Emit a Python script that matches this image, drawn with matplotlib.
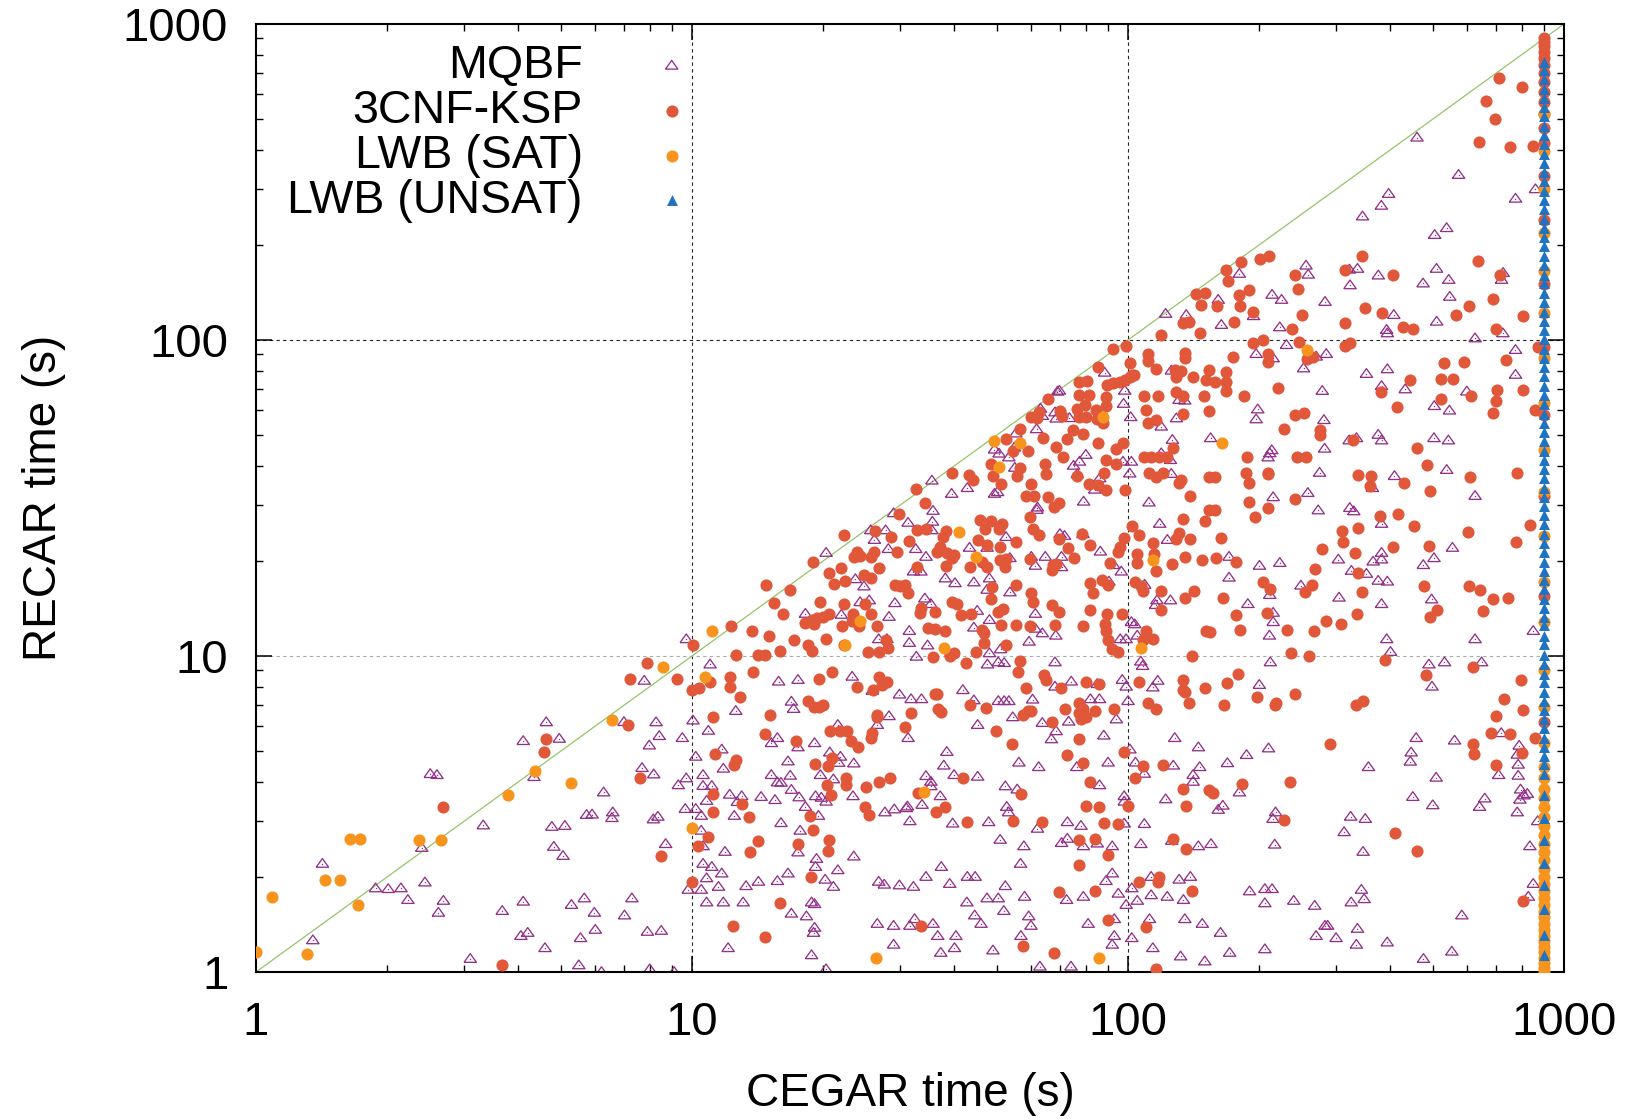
import numpy as np
import matplotlib
matplotlib.use("Agg")
import matplotlib.pyplot as plt
from matplotlib.ticker import FixedLocator, FixedFormatter, LogLocator, NullFormatter

plt.rcParams['font.family'] = ['Liberation Sans', 'DejaVu Sans']

# ── Donnees : (temps CEGAR, temps RECAR) en secondes ─────────────────────────
TIMEOUT = 900

mqbf_bottom_left = [
    (1.42, 2.2), (1.88, 1.84), (2.01, 1.83), (2.15, 1.84), (2.23, 1.69), (2.44, 1.92),
    (2.51, 4.23), (2.6, 4.2), (2.4, 2.47), (2.69, 1.68), (2.62, 1.54), (3.32, 2.91),
    (3.67, 1.56), (4.1, 5.38), (4.63, 6.17), (4.96, 5.47), (4.34, 4.14), (4.77, 2.88),
    (5.11, 2.9), (4.82, 2.49), (5.06, 2.33), (4.1, 1.67), (4.2, 1.33), (4.05, 1.3),
    (5.29, 1.63), (5.66, 1.71), (5.97, 1.54), (6.0, 1.36), (5.55, 1.28), (6.27, 3.7),
    (5.73, 3.14), (5.9, 3.15), (6.58, 3.2), (6.55, 3.07), (6.98, 6.18), (8.27, 6.17),
    (8.41, 5.58), (7.98, 5.21), (7.77, 8.35), (7.68, 4.42), (8.17, 4.22), (8.15, 3.04),
    (8.35, 3.1), (7.28, 1.71), (7.0, 1.51), (7.9, 1.34), (8.7, 2.54), (1.35, 1.26),
]
mqbf_bottom_mid = [
    (9.7, 11.3), (11.0, 9.4), (12.6, 6.7), (15.8, 8.3), (17.5, 8.4), (10.05, 6.25),
    (10.9, 5.8), (9.5, 5.5), (10.2, 4.8), (11.7, 5.06), (11.8, 4.4), (10.6, 4.2),
    (9.7, 4.1), (9.3, 3.9), (10.6, 3.88), (11.1, 3.88), (10.8, 3.48), (10.2, 3.28),
    (9.65, 3.28), (10.5, 3.12), (12.2, 3.64), (13.0, 3.6), (12.7, 3.45), (12.5, 3.12),
    (14.4, 3.58), (15.5, 3.5), (15.2, 4.2), (15.7, 3.98), (16.0, 3.97), (15.2, 5.3),
    (15.7, 5.5), (16.6, 4.64), (16.8, 4.18), (16.9, 7.17), (17.1, 6.8), (17.5, 5.14),
    (19.1, 5.3), (21.6, 6.05), (16.9, 3.77), (17.6, 3.57), (19.7, 4.2), (21.1, 4.07),
    (20.7, 4.95), (21.9, 4.8), (21.7, 4.59), (23.5, 4.57), (23.4, 3.6), (19.2, 3.6),
    (19.8, 3.56), (20.3, 3.46), (18.2, 3.33), (19.5, 3.12), (16.0, 2.96), (17.7, 2.8),
    (17.5, 2.39), (23.3, 8.6), (25.9, 7.76), (26.8, 11.3), (28.0, 11.3), (28.3, 6.45),
    (26.6, 6.05), (29.9, 7.55), (31.8, 7.3), (33.6, 7.3), (31.5, 11.0), (34.7, 10.8),
    (32.7, 9.95), (31.3, 5.5), (38.4, 4.97), (37.8, 4.5), (39.9, 4.2), (45.2, 4.15),
    (34.4, 4.17), (35.3, 4.0), (35.3, 3.87), (37.1, 3.6), (33.7, 3.38), (31.2, 3.34),
    (29.1, 3.27), (31.0, 3.3), (27.7, 3.2), (31.6, 3.0), (39.6, 2.95), (47.9, 2.98),
    (41.8, 7.8), (45.2, 6.05), (44.3, 7.24), (50.4, 7.2), (52.0, 7.2), (53.3, 7.2),
    (60.4, 7.28), (54.4, 6.4), (63.6, 6.14), (68.4, 5.78), (66.7, 5.45), (73.1, 6.2),
    (74.1, 8.3), (68.0, 8.0), (68.0, 9.55), (59.3, 11.1), (48.1, 10.2), (51.0, 10.5),
    (50.4, 9.55), (47.6, 9.4), (52.0, 9.5), (63.6, 11.8), (68.3, 11.6), (56.2, 4.6),
    (62.4, 4.45), (76.3, 4.45), (52.3, 3.87), (55.7, 3.78), (52.7, 3.33), (53.2, 3.2),
    (72.6, 2.98), (62.0, 2.84), (50.9, 2.62), (57.7, 2.5), (72.6, 2.64), (70.4, 2.56),
    (56.7, 2.2), (52.3, 1.87), (57.9, 1.73), (72.3, 1.69), (47.5, 1.71), (50.4, 1.71),
    (42.7, 1.66), (44.5, 1.51), (51.9, 1.56), (59.2, 1.5), (59.9, 1.4), (56.8, 1.3),
    (46.0, 1.42), (37.3, 2.15), (39.0, 1.9), (34.4, 2.0), (42.8, 2.0), (44.6, 2.0),
    (40.3, 1.3), (36.6, 1.3), (26.6, 1.42), (29.0, 1.4), (31.6, 1.4), (32.4, 1.47),
    (35.7, 1.42), (26.8, 1.93), (27.6, 1.89), (29.9, 1.88), (32.2, 1.86), (23.5, 2.32),
    (21.6, 2.1), (21.1, 1.86), (20.2, 1.96), (19.3, 2.28), (19.2, 2.15), (18.8, 1.66),
    (19.1, 1.64), (18.3, 1.5), (19.1, 1.38), (19.0, 1.33), (16.9, 1.53), (16.6, 2.05),
    (15.7, 1.94), (14.2, 1.93), (13.3, 1.87), (13.1, 1.66), (11.8, 1.66), (10.8, 1.66),
    (11.7, 2.05), (11.5, 1.86), (11.1, 2.15), (10.8, 1.98), (10.6, 2.2), (10.5, 1.82),
    (9.8, 1.82), (10.5, 2.8), (10.6, 2.5), (11.9, 2.4), (8.5, 1.35),
]
mqbf_bottom_right = [
    (96, 11.3), (99, 11.3), (105, 11.6), (107, 9.6), (108, 9.3), (211, 11.6), (212, 9.55),
    (392, 11.3), (400, 10.3), (490, 9.4), (532, 9.55), (647, 9.55), (625, 11.3), (498, 8.0),
    (200, 8.1), (97, 8.4), (99, 8.0), (117, 8.35), (114, 7.95), (85, 8.15), (86, 7.3),
    (82, 7.3), (100, 7.2), (94, 6.3), (88, 5.6), (128, 5.5), (145, 5.14), (101, 5.06),
    (104, 4.6), (109, 4.24), (90, 4.6), (86, 3.9), (127, 4.5), (146, 4.45), (141, 4.2),
    (141, 4.0), (169, 4.58), (187, 4.86), (210, 5.1), (180, 3.7), (98, 3.6), (98, 3.46),
    (122, 3.52), (165, 3.36), (161, 3.26), (218, 3.2), (215, 3.05), (98, 2.95), (109, 2.94),
    (78, 2.9), (79, 2.5), (85, 2.55), (92, 2.5), (107, 2.54), (126, 2.6), (145, 2.5),
    (155, 2.54), (217, 2.53), (324, 3.1), (350, 3.05), (313, 2.77), (346, 2.4), (356, 4.45),
    (458, 5.5), (561, 5.4), (446, 4.95), (444, 4.63), (509, 4.12), (450, 3.58), (500, 3.37),
    (658, 3.54), (640, 3.33), (708, 4.2), (718, 5.7), (92, 2.05), (89, 1.94), (79, 1.73),
    (95, 1.77), (102, 1.84), (99, 1.63), (105, 1.68), (113, 1.75), (123, 1.73), (134, 1.69),
    (131, 1.96), (139, 2.0), (113, 2.0), (93, 1.47), (81, 1.42), (112, 1.47), (135, 1.47),
    (148, 1.42), (163, 1.33), (190, 1.8), (206, 1.83), (214, 1.83), (206, 1.65), (240, 1.68),
    (268, 1.62), (325, 1.66), (348, 1.7), (343, 1.82), (336, 1.37), (283, 1.4), (287, 1.4),
    (270, 1.3), (300, 1.28), (583, 1.51), (93, 1.3), (102, 1.28),
]
mqbf_mid = [
    (69.6, 69.1), (68.9, 68.6), (63, 60.6), (63.6, 57.5), (68, 59), (68.4, 56.4), (73.4, 56.6),
    (61.7, 52.2), (55.3, 50.6), (54.9, 45.7), (53.3, 42.5), (50.6, 43.7), (49.4, 45),
    (75, 40), (76.5, 37.6), (55, 39.4), (50.2, 33), (49.4, 32.6), (62, 29.5), (61.8, 29),
    (69.8, 24.3), (71.5, 24), (52.5, 23.8), (43.3, 22), (47.5, 22), (53.6, 20.4), (60, 20.6),
    (61.3, 19.3), (64.6, 20.6), (70.4, 20.6), (70.4, 19.1), (35.5, 35.9), (39.4, 32.6),
    (42.8, 34), (35.7, 28.8), (35.6, 26.6), (35.5, 25), (31.3, 26.4), (29, 28.3), (25.7, 25),
    (26.2, 23.3), (27.8, 25), (28.2, 21.8), (32.6, 21.8), (34.4, 20.6), (20.3, 21.2),
    (32.2, 18.5), (33.5, 18.5), (38.1, 17.6), (40.1, 17.0), (44.3, 17.1), (47.5, 16.2),
    (48.1, 17.6), (53.6, 15.9), (23.7, 17.5), (24.8, 16.6), (24.3, 14.8), (25.5, 15),
    (29.2, 14.7), (34.2, 15.2), (35.3, 14.6), (45.1, 13.9), (48.1, 13.0), (44.3, 12.3),
    (61.3, 13.6), (61.3, 12.2), (28.3, 13.3), (31.5, 12), (18.2, 13.6), (22, 13.5),
]
mqbf_mid_right = [
    (163.7, 111.6), (222.9, 109.7), (230.9, 96.4), (196.7, 90.3), (215.2, 87.5), (284.9, 90.3),
    (270.1, 88.6), (252.7, 81.3), (393.3, 80.8), (391.9, 107.6), (393.3, 105), (510.4, 114.3),
    (625.1, 101.2), (724, 105), (352.2, 78.1), (381.5, 71.5), (432.2, 69.8), (598.6, 68.7),
    (504.1, 61.8), (545.9, 59.8), (278.9, 69.0), (198.4, 60.3), (196.7, 56.1), (281.4, 55.8),
    (129.1, 56.5), (119.2, 53.2), (130.9, 64.6), (134.9, 64.3), (101.4, 57.0), (97.7, 62.8),
    (98.3, 69.1), (88.4, 78.8), (125.7, 80.0), (126.4, 48.3), (119.2, 43.8), (125.1, 41.7),
    (125.7, 37.7), (154.7, 48.9), (213.6, 44.8), (211.4, 43.8), (209.5, 42.5), (275.0, 38.0),
    (282.4, 45.3), (321.4, 48.1), (334.2, 48.9), (374.8, 50.1), (381.5, 48.1), (503.2, 48.9),
    (543.0, 48.1), (538.2, 38.8), (408.5, 37.1), (363.6, 34.0), (625.1, 32.1), (258.5, 32.8),
    (215.2, 31.8), (273.0, 28.9), (322.6, 29.4), (329.5, 28.7), (381.5, 26.2), (381.5, 21.2),
    (364.9, 19.9), (381.5, 20.2), (303.7, 20.2), (325.4, 18.6), (352.2, 18.2), (374.8, 17.3),
    (393.3, 17.2), (475.5, 19.4), (503.2, 20.4), (554.7, 22.0), (497.0, 15.1), (381.5, 14.6),
    (304.8, 15.3), (249.2, 16.7), (211.4, 15.6), (222.9, 19.7), (200.2, 19.3), (170.5, 20.6),
    (170.5, 17.7), (188.3, 14.6), (215.2, 13.7), (215.2, 12.8), (118.2, 26.2), (123.1, 23.3),
    (111.7, 30.6), (86.4, 21.4), (92.7, 19.4), (96.5, 18.5), (109.2, 16.8), (116.5, 15.0),
    (125.1, 15.0), (115.7, 14.5), (101.8, 12.8), (103.6, 12.6), (79.1, 30.8), (78.8, 24.3),
    (77.4, 41.2), (80.0, 43.3), (86.1, 36.5), (83.9, 33.6), (101.8, 41.2), (100.9, 37.8),
    (97.4, 41.2), (90.4, 17.2),
]
mqbf_top_right = [
    (460, 437), (573, 333), (396, 290), (381, 266), (345, 246), (505, 215), (538, 226),
    (256, 172), (259, 161), (322, 167), (336, 168), (323, 149), (375, 160), (510, 168),
    (544, 155), (547, 137), (475, 151), (725, 163), (719, 155), (283, 132), (214, 139),
    (225, 134), (180, 162), (161, 134), (122, 121), (136, 120), (194, 119), (407, 120),
    (774, 280), (774, 93), (774, 77.6), (789, 5.2), (781, 4.87), (785, 4.53), (785, 4.18),
    (795, 3.78), (809, 3.62), (792, 3.51), (824, 3.66), (781, 3.2), (828, 1.73), (835, 2.5),
    (860, 300), (850, 12), (870, 3.0), (850, 1.9),
]
mqbf_floor = [
    (3.1, 1.1), (4.6, 1.19), (5.5, 1.05), (6.2, 1.0), (8.0, 1.02), (9.1, 1.0), (12.1, 1.19),
    (18.8, 1.13), (20.3, 1.02), (29, 1.22), (37.2, 1.15), (40, 1.19), (49, 1.17), (62.8, 1.04),
    (74, 1.04), (92, 1.22), (114, 1.19), (132, 1.12), (150, 1.08), (171, 1.15), (206, 1.18),
    (334, 1.22), (393, 1.24), (476, 1.1), (553, 1.16),
]

ksp_low = [
    (2.68, 3.32), (4.63, 5.45), (4.57, 4.98), (7.19, 8.47), (7.9, 9.5), (7.12, 6.06),
    (7.6, 4.12), (8.49, 2.33), (3.67, 1.05),
    (10.05, 10.8), (12.6, 10.1), (14.2, 10.1), (14.7, 10.1), (15.9, 10.4), (17.1, 11.2),
    (18.5, 10.8), (18.8, 10.4), (20.3, 11.3), (22.3, 10.8), (25.3, 10.3), (26.9, 10.3),
    (28.1, 10.6), (27.9, 11.2), (35.8, 9.95), (39.1, 10), (42.6, 9.5), (44.7, 10.3),
    (46.8, 11.0), (52.6, 10.8), (56.6, 9.66), (56, 8.9), (64.2, 8.7), (65, 8.4), (58.3, 7.9),
    (70.3, 7.9), (9.24, 8.43), (10, 7.8), (10.4, 7.9), (11, 8.3), (12.2, 8.55), (12.2, 8.0),
    (13.8, 8.9), (12.9, 7.4), (11.2, 6.4), (15.1, 6.5), (14.7, 5.65), (17.3, 5.4), (19.6, 8.45),
    (20.9, 8.9), (23.9, 8.0), (26.9, 8.6), (26.0, 7.8), (27.3, 8.1), (28.0, 8.3), (18.5, 7.2),
    (19.0, 6.9), (19.6, 6.9), (20.0, 7.0), (26.6, 6.5), (26.5, 6.4), (31.8, 6.6), (30.8, 5.96),
    (25.7, 5.5), (25.9, 5.7), (20.7, 5.8), (21.9, 5.8), (22.7, 5.8), (23.1, 5.4), (24.0, 5.14),
    (21.0, 4.77), (20.5, 4.5), (19.1, 4.55), (22.6, 4.1), (22.5, 3.9), (20.4, 3.9), (20.8, 3.64),
    (25.0, 3.86), (26.8, 4.0), (28.4, 4.1), (24.9, 3.33), (25.4, 3.13), (18.6, 3.12), (18.9, 2.81),
    (20.6, 2.62), (20.5, 2.42), (17.5, 2.55), (18.7, 2.0), (14.2, 2.6), (13.6, 2.4), (10.9, 2.68),
    (10.3, 2.5), (10.0, 1.93), (11.2, 3.67), (11.2, 3.2), (13.0, 3.4), (13.5, 3.1), (11.3, 4.9),
    (12.5, 4.52), (12.6, 4.67), (15.9, 1.65), (12.4, 1.4), (14.7, 1.29), (33.6, 1.4), (33.0, 3.68),
    (36.3, 3.2), (38.0, 3.33), (41.8, 4.1), (42.7, 2.99), (56.8, 3.65), (54.6, 3.0), (63.6, 2.98),
    (71.6, 6.8), (59, 6.7), (60, 6.7), (57.5, 6.5), (67, 6.2), (49.9, 5.8), (43.3, 7.0),
    (47.2, 6.85), (54.3, 5.25), (72.5, 4.87), (69.6, 1.79), (36.1, 7.6), (36.5, 7.6),
    (37.2, 6.65), (36.6, 6.8), (40, 10.2), (39, 10.1),
    (57.5, 1.21), (67.5, 1.15), (116, 1.02),
]
ksp_low_right = [
    (89, 12), (90, 11.2), (92, 10.5), (95, 10.3), (108, 11.2), (114, 11.3), (110, 12), (151, 12),
    (154, 11.9), (181, 12.1), (267, 12), (232, 12.1), (140, 10), (236, 10.2), (260, 10), (389, 9.7),
    (617, 9.2), (483, 8.7), (80, 8.3), (86, 8.15), (106, 8.3), (134, 8.4), (134, 7.8), (135, 7.7),
    (150, 7.9), (169, 8.2), (179, 8.8), (77, 7.1), (79, 6.8), (77, 6.6), (84, 6.7), (80, 6.4),
    (78, 6.3), (93, 6.8), (111, 7.1), (116, 6.8), (138, 7.1), (166, 7.0), (198, 7.4), (217, 7.0),
    (219, 7.1), (242, 7.6), (333, 7.0), (346, 7.2), (729, 7.3), (700, 6.45), (680, 5.7), (750, 5.65),
    (290, 5.27), (617, 5.27), (622, 4.9), (700, 4.52), (77, 5.45), (79, 4.6), (98, 4.98), (108, 4.5),
    (104, 4.12), (120, 4.53), (82, 3.98), (80, 3.35), (86, 3.33), (100, 3.35), (134, 3.8),
    (136, 3.35), (153, 3.77), (157, 3.68), (183, 3.93), (235, 4.0), (228, 3.02), (88, 2.97),
    (95, 2.95), (77, 2.62), (84, 2.63), (90, 2.34), (77, 2.18), (127, 2.63), (136, 2.45),
    (409, 2.76), (461, 2.41), (106, 1.93), (118, 2.0), (117, 1.93), (84, 1.8), (140, 1.8),
    (90, 1.46), (110, 1.39), (795, 8.4), (805, 6.76), (803, 4.93), (807, 1.68), (860, 5.5),
]
ksp_mid = [
    (65.5, 64.9), (62.5, 59.3), (60, 56.9), (62, 56.5), (70, 59.8), (70.5, 57.5), (76.5, 60.3),
    (56.6, 52.4), (52.5, 48.5), (54.5, 44.7), (59, 44.4), (63.8, 49), (68.5, 46), (72.5, 48.7),
    (74.6, 52), (71, 42.6), (48.5, 40.5), (56.5, 39.4), (55.5, 37.1), (64.4, 40.5), (65, 37.6),
    (76.5, 37), (51, 35.1), (49, 37.2), (59.8, 35), (58.5, 32), (61, 32), (65.5, 31.8),
    (69.5, 30.4), (67.5, 29.6), (59.5, 27.6), (60.5, 25.2), (62.5, 24.2), (69.5, 23.5),
    (73, 21.9), (75, 20.4), (82, 22.5), (78.5, 24.3), (39.4, 37.9), (43.2, 37.3), (44.2, 36),
    (32.6, 33.7), (34.2, 30.6), (29.9, 28.1), (45.8, 26.9), (48.5, 26.8), (51.5, 26.1),
    (47, 25.3), (50.5, 25.3), (38.2, 24.9), (37.6, 23.8), (45.4, 23.3), (47.6, 22.4),
    (50.9, 22.2), (55.4, 22.9), (32.8, 25.1), (34.5, 25.3), (28.6, 23.8), (31.4, 23.1),
    (29.6, 21.3), (22.3, 24.2), (26.3, 24.8), (23.9, 21.3), (23.5, 20.5), (24.3, 20.7),
    (25.7, 20.5), (26.9, 19.0), (26.1, 21.3), (37, 22.2), (36.5, 21.3), (38.5, 21.2), (40, 20.9),
    (38.2, 19.3), (39.4, 20.4), (32.8, 19.1), (43.4, 19.1), (46.2, 19.9), (47.6, 19.1),
    (50.8, 20.2), (52.5, 20.3), (52.3, 19.1), (59.5, 20.3), (67.3, 19.4), (68.4, 19.5),
    (66.8, 18.7), (18.9, 19.9), (22, 19), (20.6, 18.3), (22.4, 17.3), (21.2, 16.9),
    (24.8, 18), (25.7, 17.6), (29.2, 16.8), (30, 16.6), (30.8, 16.8), (31.3, 15.8), (16.8, 16.2),
    (14.8, 16.8), (15.4, 14.7), (16.2, 13.6), (19.7, 14.8), (22.3, 14.6), (23.4, 13.6),
    (24.9, 14.6), (25.8, 13.6), (20.6, 13.6), (20, 13.3), (19.4, 13.2), (18.8, 13.0), (18.2, 12.7),
    (19.0, 12.6), (23.3, 12.9), (24.2, 12.4), (22.1, 12.4), (26.6, 12.4), (12.3, 12.4),
    (13.7, 12.0), (15, 11.6), (33.6, 14.2), (33.4, 13.7), (36, 13.8), (34.8, 12.3), (36, 12.2),
    (38.1, 12), (39.4, 14.8), (40.6, 14.6), (41.4, 13.5), (43.7, 13.6), (48.8, 16.5), (48.6, 15.1),
    (55.3, 16.8), (60, 15.8), (60.4, 14.8), (66.8, 14.5), (69.5, 13.8), (50.2, 13.8), (51.6, 14.1),
    (51.2, 12.5), (55.3, 12.5), (59.6, 12.4), (68.1, 12.5), (46.3, 12.1), (46.8, 11.8),
]
ksp_mid_right = [
    (134, 113), (138, 114), (146, 105), (119, 104), (92.3, 93.6), (99, 95.9), (85.3, 81.9),
    (101, 84.7), (102, 77.7), (111, 90.2), (111, 86.0), (116, 80.8), (135, 90.7), (135, 87.6),
    (128, 80.2), (132, 79.7), (129, 76.6), (141, 76.6), (153, 80.2), (151, 74.6), (158, 73.4),
    (168, 79), (168, 73.8), (168, 69.1), (174, 88.3), (77.4, 73.8), (80.6, 74.3), (89.5, 72),
    (92.4, 73.3), (95.7, 73.8), (98.2, 74.8), (101, 76.6), (103, 77.5), (77.4, 66.9), (81.6, 66.9),
    (79.6, 62.3), (84.3, 60.1), (88.9, 65.8), (88.9, 61.8), (77.4, 57.2), (79.9, 57.2), (84.8, 56.3),
    (87.7, 54.7), (85.5, 47.3), (78.9, 50.3), (97.4, 47.3), (93.7, 45.1), (88.9, 41.7), (93.7, 40.5),
    (88, 38), (81.6, 35), (85.5, 34.8), (88.9, 33.4), (98.2, 33.4), (109, 66.3), (117, 66.6),
    (110, 60.1), (111, 54.5), (116, 55.8), (129, 68.7), (134, 66.6), (134, 58.3), (149, 66.6),
    (153, 59.8), (185, 66.6), (221, 70.6), (204, 100), (194, 97.6), (209, 90.3), (210, 85.4),
    (238, 108), (247, 98.8), (257, 86.9), (266, 88.1), (315, 113), (314, 95.7), (323, 97.6),
    (428, 110), (451, 108), (699, 108), (532, 84.8), (589, 85), (522, 75.3), (555, 75.3),
    (522, 65.2), (612, 66.6), (444, 74.6), (381, 68.7), (414, 61.3), (702, 69.5), (699, 64.1),
    (686, 58.6), (735, 86.4), (241, 57.8), (253, 58.9), (228, 52.4), (275, 51.9), (276, 50.1),
    (329, 48.1), (461, 45.5), (484, 40.2), (609, 36.8), (430, 35.4), (493, 33.3), (337, 37.4),
    (361, 37.1), (359, 34.5), (378, 27.7), (416, 28.1), (454, 25.8), (337, 25.5), (310, 24.9),
    (311, 22.9), (332, 21.2), (405, 22.2), (489, 22.3), (602, 24.7), (278, 21.8), (268, 18.8),
    (337, 18.3), (345, 15.9), (264, 16.8), (254, 15.9), (204, 17.1), (212, 16.3), (208, 13.7),
    (177, 13.5), (285, 12.9), (308, 12.6), (335, 13.6), (478, 16.6), (510, 14.0), (493, 13.3),
    (604, 16.7), (641, 16.2), (688, 15.2), (744, 15.3), (651, 13.9), (109, 42.7), (113, 42.5),
    (118, 42.5), (123, 42.5), (112, 38.0), (116, 36.9), (120, 38.0), (127, 45.5), (132, 36.1),
    (131, 35.2), (139, 32.0), (153, 36.9), (158, 36.9), (187, 42.5), (186, 38.0), (189, 35.4),
    (209, 37.7), (210, 38.0), (189, 30.8), (210, 29.5), (196, 27.5), (242, 31.3), (244, 42.7),
    (256, 42.7), (153, 28.9), (158, 29.0), (150, 26.8), (134, 27.1), (131, 24.5), (129, 23.5),
    (139, 23.5), (163, 23.6), (177, 19.8), (159, 20.4), (148, 20.2), (135, 20.5), (126, 19.5),
    (116, 18.6), (114, 22.7), (115, 21.0), (105, 21.1), (105, 19.7), (98, 23.7), (96, 22.2),
    (95, 21.4), (102, 25.8), (106, 24.2), (91, 19.7), (87, 17.4), (82, 17.0), (90, 16.8),
    (83, 15.8), (104, 17.1), (107, 16.6), (108, 16.0), (119, 16.1), (119, 14.0), (142, 16.0),
    (135, 15.3), (165, 15.3), (97, 13.6), (89.5, 13.6), (82, 14.0), (88.5, 12.6), (79, 12.4),
    (778, 22.9), (835, 26), (781, 37.9), (807, 69.4), (870, 95), (860, 60),
]
ksp_top_right = [
    (710, 673), (664, 571), (693, 500), (638, 424), (750, 409), (344, 185), (635, 178), (201, 181),
    (211, 184), (182, 177), (168, 166), (170, 154), (143, 140), (150, 141), (147, 129), (160, 128),
    (180, 139), (181, 128), (189, 144), (194, 123), (175, 114), (241, 160), (246, 145), (250, 120),
    (314, 166), (405, 160), (349, 126), (383, 122), (566, 120), (605, 128), (688, 135), (714, 160),
    (802, 634), (807, 119), (850, 410),
]

lwb_sat = [
    (1.0, 1.16), (1.31, 1.14), (1.09, 1.73), (1.44, 1.96), (1.56, 1.96), (1.64, 2.63), (1.73, 2.63),
    (1.71, 1.63), (2.36, 2.61), (2.66, 2.61), (3.78, 3.62), (4.37, 4.33), (5.27, 3.97), (6.55, 6.27),
    (8.6, 9.2), (11.1, 12.0), (10.7, 8.55), (22.4, 10.8), (37.8, 10.6), (10.0, 2.86), (34.0, 3.7),
    (49.2, 48), (56.6, 47.3), (50.7, 39.7), (41, 24.6), (44.9, 20.5), (24.3, 12.9), (26.4, 1.11),
    (86, 1.11), (87.7, 57.0), (258, 93), (164, 47.3), (114, 20.2), (107, 10.6),
]

# points au temps limite (colonne de droite)
ksp_timeout_y = [905, 880, 850, 815, 780, 740, 700, 655, 610, 565, 520, 470, 420,
                 330, 240, 150, 95, 58, 32, 15.5, 6.2]
sat_timeout_y = [1.0, 1.03, 1.07, 1.11, 1.16, 1.2, 1.25, 1.3, 1.36, 1.42, 1.49, 1.55, 1.63, 1.71,
                 1.8, 1.9, 2.0, 2.12, 2.26, 2.4, 2.55, 2.72, 2.9, 3.1, 3.32, 3.55, 3.8, 4.1, 4.45,
                 5.3, 6.9, 9.0, 12.8, 17.2, 24, 33, 45, 63, 88, 122, 165, 218, 300, 395, 520]
unsat_timeout_y = [1.13, 1.31, 1.58, 1.88, 2.22, 2.62, 3.08, 3.62, 4.22, 4.55, 4.83, 5.15, 5.52,
                   5.93, 6.3, 6.75, 7.2, 7.7, 8.25, 8.8, 9.45, 10.1, 10.9, 11.6, 12.5, 13.3, 14.2,
                   15.1, 16.3, 17.4, 18.6, 19.9, 21.3, 22.8, 24.4, 26.1, 27.9, 29.8, 31.9, 34.1,
                   36.5, 39.0, 41.8, 44.7, 47.8, 51.2, 54.7, 58.5, 62.6, 67.0, 71.7, 76.7, 82.0,
                   87.8, 93.9, 100.5, 107.5, 115, 123, 132, 141, 151, 161, 173, 185, 198, 212, 226,
                   242, 259, 277, 297, 318, 340, 364, 389, 416, 445, 476, 510, 545, 583, 624, 668,
                   715, 760]

tick_values = [1, 10, 100, 1000]
tick_labels = ["1", "10", "100", "1000"]

# ── Couleurs ─────────────────────────────────────────────────────────────────
C_MQBF = "#93318a"
C_KSP = "#e1573a"
C_SAT = "#f7941d"
C_UNSAT = "#1f73c0"
C_DIAG = "#96c468"

tri_open = [(-1, -0.55), (1, -0.55), (0, 0.85), (-1, -0.55)]


def split(pts):
    a = np.array(pts, dtype=float)
    return a[:, 0], a[:, 1]


mqbf_x, mqbf_y = split(mqbf_bottom_left + mqbf_bottom_mid + mqbf_bottom_right + mqbf_mid
                       + mqbf_mid_right + mqbf_top_right + mqbf_floor)
ksp_x, ksp_y = split(ksp_low + ksp_low_right + ksp_mid + ksp_mid_right + ksp_top_right)
ksp_x = np.concatenate([ksp_x, np.full(len(ksp_timeout_y), TIMEOUT)])
ksp_y = np.concatenate([ksp_y, ksp_timeout_y])
sat_x, sat_y = split(lwb_sat)
sat_x = np.concatenate([sat_x, np.full(len(sat_timeout_y), TIMEOUT)])
sat_y = np.concatenate([sat_y, sat_timeout_y])
unsat_y = np.array(unsat_timeout_y)
unsat_x = np.full(len(unsat_y), TIMEOUT)

# ── Figure ───────────────────────────────────────────────────────────────────
fig = plt.figure(figsize=(16.3, 11.19), dpi=100)
ax = fig.add_axes([256 / 1630, 1 - 972 / 1119, 1308 / 1630, 948 / 1119])
ax.set_xscale("log")
ax.set_yscale("log")
lims = [tick_values[0], tick_values[-1]]
ax.set_xlim(lims)
ax.set_ylim(lims)

# grille pointillee sur les decades interieures
for v in tick_values[1:-1]:
    ax.axvline(v, color="#222222", lw=0.8, ls=(0, (3, 3)), zorder=0.5)
ax.axhline(tick_values[1], color="#aaaaaa", lw=0.8, ls=(0, (3, 3)), zorder=0.5)
ax.axhline(tick_values[2], color="#222222", lw=0.8, ls=(0, (3, 3)), zorder=0.5)

ax.plot(lims, lims, color=C_DIAG, lw=0.9, zorder=1)

s_mqbf = ax.scatter(mqbf_x, mqbf_y, marker=tri_open, s=80, facecolors="none",
                    edgecolors=C_MQBF, linewidths=0.95, zorder=2, label="MQBF")
ax.scatter(mqbf_x, mqbf_y, marker="o", s=1.0, color=C_MQBF, linewidths=0, zorder=2)
s_ksp = ax.scatter(ksp_x, ksp_y, marker="o", s=76, color=C_KSP, linewidths=0,
                   zorder=3, label="3CNF-KSP")
s_sat = ax.scatter(sat_x, sat_y, marker="o", s=76, color=C_SAT, linewidths=0,
                   zorder=4, label="LWB (SAT)")
s_unsat = ax.scatter(unsat_x, unsat_y, marker="^", s=62, color=C_UNSAT, linewidths=0,
                     zorder=5, label="LWB (UNSAT)")

# ── Axes ─────────────────────────────────────────────────────────────────────
for axis in (ax.xaxis, ax.yaxis):
    axis.set_major_locator(FixedLocator(tick_values))
    axis.set_major_formatter(FixedFormatter(tick_labels))
    axis.set_minor_locator(LogLocator(base=10, subs=np.arange(2, 10)))
    axis.set_minor_formatter(NullFormatter())

ax.tick_params(which="both", direction="in", top=True, right=True, colors="black")
ax.tick_params(which="major", length=11.5, width=1.1, labelsize=34)
ax.tick_params(which="minor", length=5, width=1.0)
ax.tick_params(axis="x", which="major", pad=21)
ax.tick_params(axis="y", which="major", pad=20)
for sp in ax.spines.values():
    sp.set_linewidth(1.5)

ax.set_xlabel("CEGAR time (s)", fontsize=33, labelpad=19)
ax.set_ylabel("RECAR time (s)", fontsize=33, labelpad=41)

ax.legend(handles=[s_mqbf, s_ksp, s_sat, s_unsat], loc="upper right",
          bbox_to_anchor=(0.3356, 0.979), markerfirst=False, frameon=False,
          fontsize=33.5, handlelength=1.0, handletextpad=1.41, labelspacing=0.02,
          borderpad=0, borderaxespad=0, scatterpoints=1)

fig.savefig("out.png", dpi=100)
